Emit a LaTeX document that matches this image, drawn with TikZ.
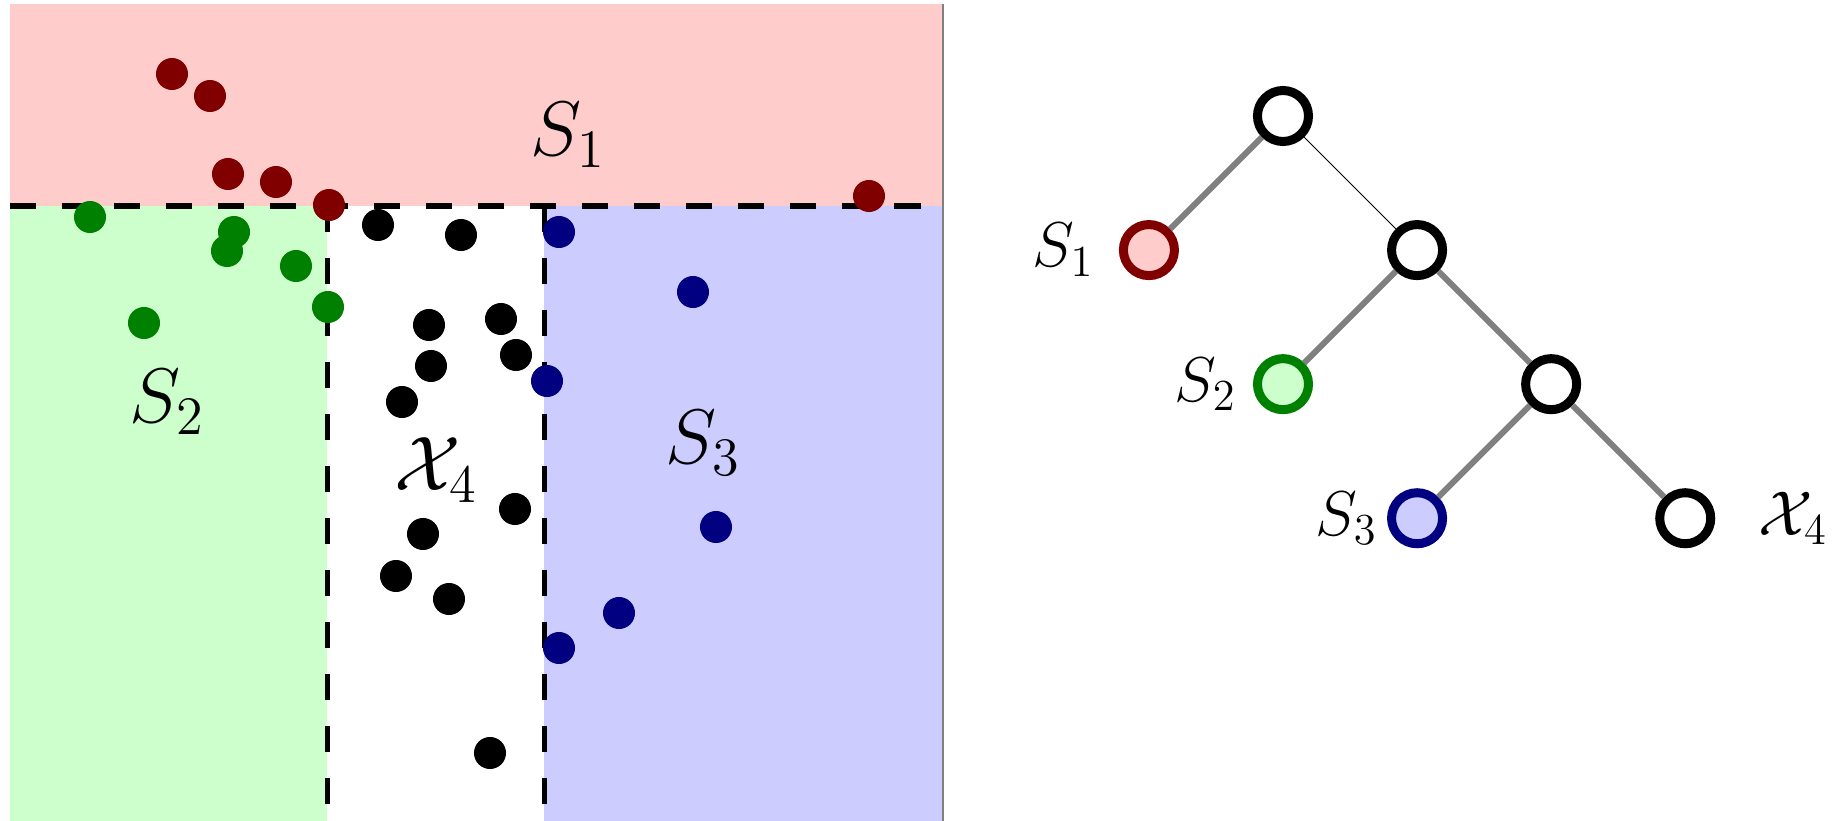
\RequirePackage{fix-cm}
\documentclass[tikz,border=0pt]{standalone}
\usetikzlibrary{positioning}

\definecolor{lightred}{RGB}{255,204,204}
\definecolor{lightgreen}{RGB}{204,255,204}
\definecolor{lightblue}{RGB}{204,204,255}
\definecolor{darkred}{RGB}{128,0,0}
\definecolor{darkgreen}{RGB}{0,128,0}
\definecolor{darkblue}{RGB}{0,0,128}

\begin{document}
\begin{tikzpicture}[
    x=0.01cm, y=-0.01cm,
    node distance=1.34cm and 1.34cm, on grid,
    split/.style={line width=0.05cm, dash pattern=on 0.26cm off 0.26cm},
    region/.style={font=\fontsize{22}{26}\selectfont, inner sep=0pt},
    tnode/.style={circle, draw, line width=0.09cm, minimum size=0.51cm, inner sep=0pt, fill=white},
    leaf/.style={tnode},
    tlabel/.style={font=\fontsize{18}{21}\selectfont, inner sep=0pt},
    edge/.style={gray, line width=0.06cm},
]

\useasboundingbox (0,0) rectangle (1832,821);

% Regions
\fill[lightred] (10,4) rectangle (943,206);
\fill[lightgreen] (10,206) rectangle (327,821);
\fill[lightblue] (544,206) rectangle (943,821);
\draw[gray, line width=0.02cm] (943,4) -- (943,821);

% Splits
\draw[split] (10,206) -- (943,206);
\draw[split] (327,206) -- (327,821);
\draw[split] (544,206) -- (544,821);

% Data points
\foreach \px/\py in {172/74, 210/96, 228/174, 276/182, 329/205, 869/196}
    \fill[darkred] (\px,\py) circle[radius=0.16cm];
\foreach \px/\py in {90/217, 234/232, 227/251, 296/266, 144/323, 328/307}
    \fill[darkgreen] (\px,\py) circle[radius=0.16cm];
\foreach \px/\py in {378/225, 461/235, 429/325, 501/319, 431/366, 516/355, 402/402,
                     515/509, 423/534, 396/576, 449/599, 490/753}
    \fill[black] (\px,\py) circle[radius=0.16cm];
\foreach \px/\py in {559/232, 693/292, 547/381, 716/527, 619/613, 559/648}
    \fill[darkblue] (\px,\py) circle[radius=0.16cm];

% Region labels
\node[region] (lab_s1) at (568,135) {$S_1$};
\node[region] (lab_s2) at (167,402) {$S_2$};
\node[region] (lab_x4) at (436,470) {$\mathcal{X}_4$};
\node[region] (lab_s3) at (703,443) {$S_3$};

% Tree
\node[tnode] (root) at (1283,116) {};
\node[leaf, draw=darkred, fill=lightred, below left=of root,
      label={[tlabel, label distance=0.24cm]left:$S_1$}] (s1) {};
\node[tnode, below right=of root] (n2) {};
\node[leaf, draw=darkgreen, fill=lightgreen, below left=of n2,
      label={[tlabel, label distance=0.16cm]left:$S_2$}] (s2) {};
\node[tnode, below right=of n2] (n3) {};
\node[leaf, draw=darkblue, fill=lightblue, below left=of n3,
      label={[tlabel, label distance=0.09cm]left:$S_3$}] (s3) {};
\node[tnode, below right=of n3,
      label={[tlabel, label distance=0.43cm]right:$\mathcal{X}_4$}] (x4) {};

% Edges
\draw[edge] (root) -- (s1);
\draw[black, line width=0.01cm] (root) -- (n2);
\draw[edge] (n2) -- (s2);
\draw[edge] (n2) -- (n3);
\draw[edge] (n3) -- (s3);
\draw[edge] (n3) -- (x4);

\end{tikzpicture}
\end{document}
